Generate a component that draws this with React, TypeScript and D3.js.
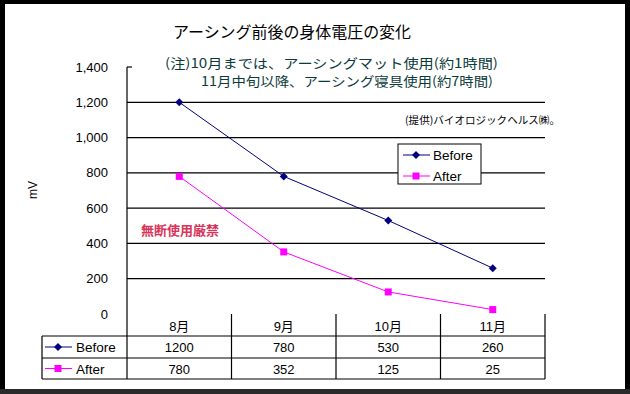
import { useEffect, useRef } from "react"
import * as d3 from "d3"

const months = ["8月", "9月", "10月", "11月"]
const before = [1200, 780, 530, 260]
const after = [780, 352, 125, 25]
const yTicks = [0, 200, 400, 600, 800, 1000, 1200, 1400]

const title = "アーシング前後の身体電圧の変化"
const noteLines = ["(注)10月までは、アーシングマット使用(約1時間)", "11月中旬以降、アーシング寝具使用(約7時間)"]
const credit = "(提供)バイオロジックヘルス㈱。"
const stamp = "無断使用厳禁"

const series = [
  { name: "Before", values: before, color: "#000080", marker: "diamond" },
  { name: "After", values: after, color: "#ff00ff", marker: "square" },
]

const W = 630
const H = 394
const sans = "'Liberation Sans', 'Noto Sans CJK JP', sans-serif"
const cjk = "'Noto Sans CJK JP', sans-serif"

const App = () => {
  const svgRef = useRef<SVGSVGElement | null>(null)

  useEffect(() => {
    if (!svgRef.current) return
    const svg = d3.select(svgRef.current)
    svg.selectAll("*").remove()

    // frame
    svg.append("rect").attr("width", W).attr("height", H).attr("fill", "#000")
    svg.append("rect").attr("x", 0).attr("y", 389).attr("width", W).attr("height", 5).attr("fill", "#2a2a2a")
    svg.append("rect").attr("x", 5).attr("y", 4).attr("width", 620).attr("height", 385).attr("fill", "#fff")

    const plotLeft = 127
    const plotRight = 545
    const y = d3.scaleLinear().domain([0, 1400]).range([314, 67])
    const x = d3.scaleBand<string>().domain(months).range([plotLeft, plotRight])
    const cx = (m: string) => (x(m) as number) + x.bandwidth() / 2

    // title + notes
    svg.append("text").attr("x", 173).attr("y", 38)
      .attr("textLength", 238).attr("lengthAdjust", "spacingAndGlyphs")
      .attr("font-family", cjk).attr("font-size", 15.5).attr("fill", "#000").text(title)
    svg.append("text").attr("x", 165).attr("y", 68).attr("font-family", cjk).attr("font-size", 13)
      .attr("textLength", 333).attr("lengthAdjust", "spacingAndGlyphs")
      .attr("fill", "#0d3b3b").text(noteLines[0])
    svg.append("text").attr("x", 201).attr("y", 85.5).attr("font-family", cjk).attr("font-size", 13)
      .attr("textLength", 292).attr("lengthAdjust", "spacingAndGlyphs")
      .attr("fill", "#0d3b3b").text(noteLines[1])

    // gridlines
    svg.append("g").selectAll("line").data(yTicks.filter((t) => t > 0 && t < 1400)).join("line")
      .attr("x1", plotLeft).attr("x2", plotRight)
      .attr("y1", (d) => y(d)).attr("y2", (d) => y(d))
      .attr("stroke", "#000").attr("stroke-width", 1.2)

    // y axis
    svg.append("line").attr("x1", plotLeft).attr("x2", plotLeft).attr("y1", y(1400)).attr("y2", y(0))
      .attr("stroke", "#000").attr("stroke-width", 1.2)
    svg.append("line").attr("x1", plotLeft).attr("x2", plotLeft + 5).attr("y1", y(1400)).attr("y2", y(1400))
      .attr("stroke", "#000").attr("stroke-width", 1.2)
    svg.append("g").selectAll("text").data(yTicks).join("text")
      .attr("x", 108).attr("y", (d) => y(d) + 4.5).attr("text-anchor", "end")
      .attr("font-family", sans).attr("font-size", 13).text((d) => d3.format(",")(d))
    svg.append("text").attr("transform", "translate(37,190) rotate(-90)").attr("text-anchor", "middle")
      .attr("font-family", sans).attr("font-size", 12).text("mV")

    svg.append("text").attr("x", 405).attr("y", 124).attr("font-family", cjk).attr("font-size", 10.5)
      .attr("textLength", 155).attr("lengthAdjust", "spacingAndGlyphs").text(credit)
    svg.append("text").attr("x", 141).attr("y", 235).attr("font-family", cjk).attr("font-size", 13)
      .attr("font-weight", "bold").attr("fill", "#d8355a").text(stamp)

    // series
    const drawMarker = (g: d3.Selection<SVGGElement, unknown, null, undefined>, kind: string, px: number, py: number, color: string) => {
      if (kind === "diamond") {
        g.append("path").attr("d", `M${px},${py - 4}L${px + 4},${py}L${px},${py + 4}L${px - 4},${py}Z`).attr("fill", color)
      } else {
        g.append("rect").attr("x", px - 3.5).attr("y", py - 3.5).attr("width", 7).attr("height", 7).attr("fill", color)
      }
    }

    series.forEach((s) => {
      const g = svg.append("g")
      const line = d3.line<number>().x((_, i) => cx(months[i])).y((d) => y(d))
      g.append("path").attr("d", line(s.values)).attr("fill", "none").attr("stroke", s.color).attr("stroke-width", 1)
      s.values.forEach((v, i) => drawMarker(g, s.marker, cx(months[i]), y(v), s.color))
    })

    // legend
    svg.append("rect").attr("x", 398).attr("y", 144).attr("width", 83).attr("height", 40)
      .attr("fill", "#fff").attr("stroke", "#000").attr("stroke-width", 1)
    series.forEach((s, i) => {
      const ly = 155 + i * 21
      const g = svg.append("g")
      g.append("line").attr("x1", 403).attr("x2", 430).attr("y1", ly).attr("y2", ly).attr("stroke", s.color)
      drawMarker(g, s.marker, 416, ly, s.color)
      g.append("text").attr("x", 433).attr("y", ly + 5).attr("font-family", sans).attr("font-size", 13.5).text(s.name)
    })

    // data table
    const tLeft = 42
    const rows = [314, 336, 358, 379]
    const tg = svg.append("g").attr("stroke", "#000").attr("stroke-width", 1.2)
    rows.slice(1).forEach((ry) => tg.append("line").attr("x1", tLeft).attr("x2", plotRight).attr("y1", ry).attr("y2", ry))
    tg.append("line").attr("x1", tLeft).attr("x2", tLeft).attr("y1", rows[1]).attr("y2", rows[3])
    const cols = [...months.map((m) => x(m) as number), plotRight]
    cols.forEach((c) => tg.append("line").attr("x1", c).attr("x2", c).attr("y1", rows[0]).attr("y2", rows[3]))

    months.forEach((m) => {
      svg.append("text").attr("x", cx(m)).attr("y", 331).attr("text-anchor", "middle")
        .attr("font-family", sans).attr("font-size", 13).text(m)
    })
    series.forEach((s, r) => {
      const ry = (rows[r + 1] + rows[r + 2]) / 2
      const g = svg.append("g")
      g.append("line").attr("x1", 45).attr("x2", 72).attr("y1", ry).attr("y2", ry).attr("stroke", s.color)
      drawMarker(g, s.marker, 58, ry, s.color)
      g.append("text").attr("x", 76).attr("y", ry + 5).attr("font-family", sans).attr("font-size", 13.5).text(s.name)
      s.values.forEach((v, i) => {
        svg.append("text").attr("x", cx(months[i])).attr("y", ry + 5).attr("text-anchor", "middle")
          .attr("font-family", sans).attr("font-size", 13).text(v)
      })
    })
  }, [])

  return <svg ref={svgRef} width={W} height={H} style={{ position: "absolute", left: 0, top: 0 }} />
}

export default App
